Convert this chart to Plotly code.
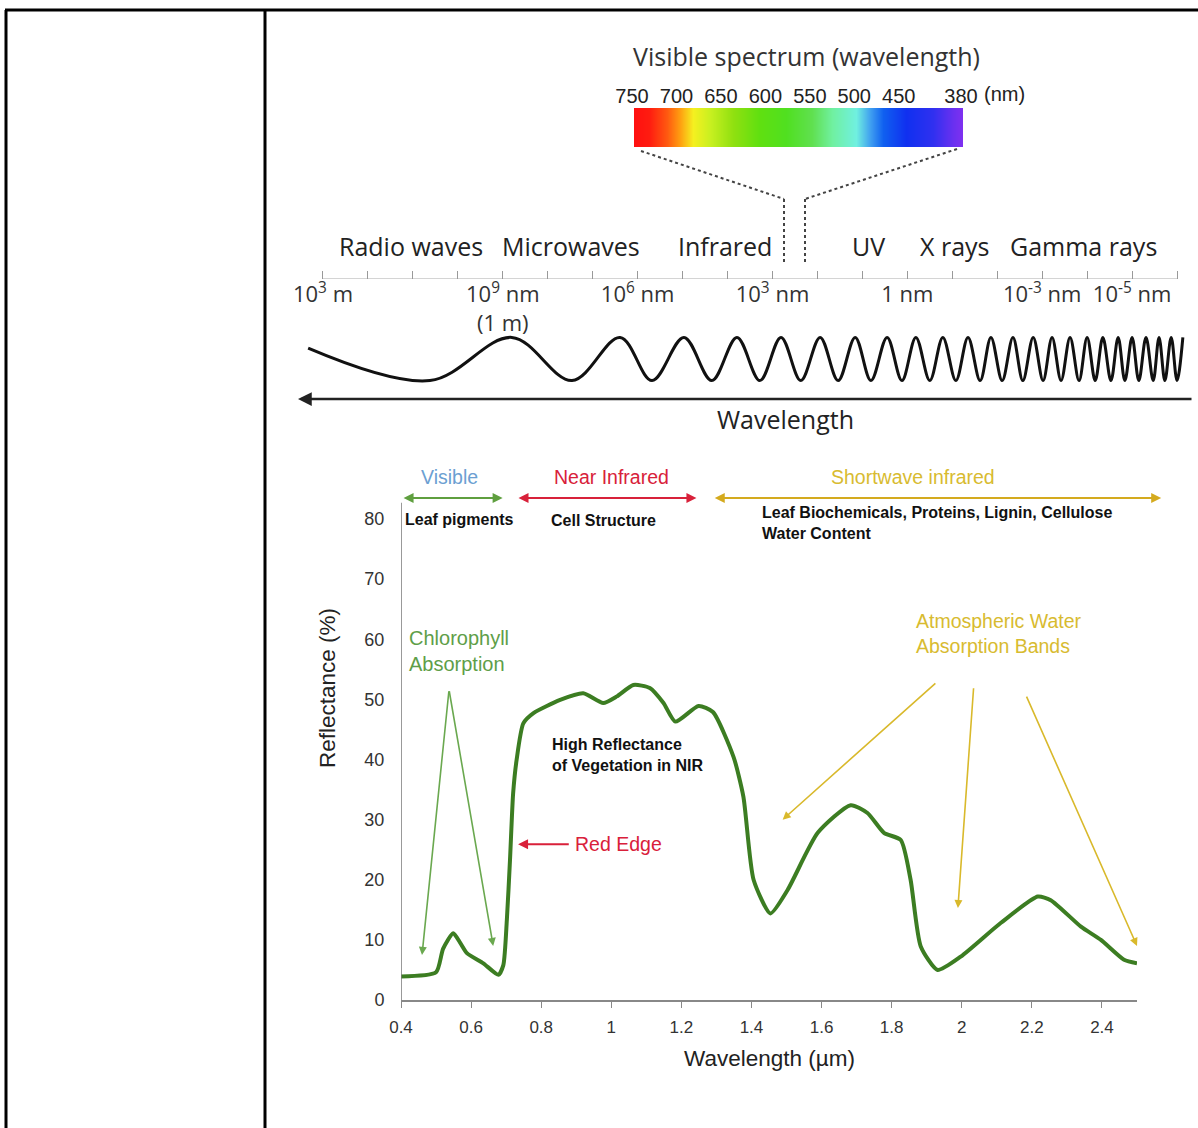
import plotly.graph_objects as go

W, H = 1198, 1128

# ---------------- data ----------------
# Vegetation reflectance curve
wavelength_um = [0.40, 0.50, 0.52, 0.549, 0.569, 0.588, 0.635, 0.678, 0.692, 0.702, 0.711, 0.72, 0.73,
                 0.749, 0.778, 0.854, 0.92, 0.977, 1.016, 1.063, 1.11, 1.149, 1.183, 1.249, 1.29, 1.349,
                 1.377, 1.406, 1.454, 1.503, 1.589, 1.683, 1.731, 1.778, 1.826, 1.854, 1.883, 1.931,
                 1.997, 2.111, 2.217, 2.254, 2.34, 2.397, 2.463, 2.50]
reflectance_pct = [3.9, 4.6, 8.5, 11.1, 9.5, 7.8, 6.1, 4.2, 5.8, 13.3, 23.3, 34.4, 40.0,
                   46.0, 47.7, 49.9, 51.0, 49.4, 50.5, 52.4, 51.9, 49.4, 46.3, 48.9, 47.9, 40.4,
                   33.8, 20.0, 14.4, 18.3, 27.8, 32.4, 31.1, 27.8, 26.6, 20.0, 8.9, 5.0,
                   7.2, 12.8, 17.2, 16.6, 12.2, 10.0, 6.7, 6.1]
x_ticks = [0.4, 0.6, 0.8, 1.0, 1.2, 1.4, 1.6, 1.8, 2.0, 2.2, 2.4]
x_ticktext = ["0.4", "0.6", "0.8", "1", "1.2", "1.4", "1.6", "1.8", "2", "2.2", "2.4"]
y_ticks = [0, 10, 20, 30, 40, 50, 60, 70, 80]

# Visible spectrum bar (wavelength in nm -> colour)
spectrum_nm = [750, 733, 713, 699, 684, 665, 639, 609, 579, 550, 527, 500, 485, 470, 444, 414, 391, 380]
spectrum_colors = ["#ff1010", "#ff1c10", "#ff5a10", "#ff9a10", "#f5f020", "#c8f020", "#90e010", "#60e010",
                   "#50e020", "#60e050", "#70f0a0", "#70f0e0", "#40a0f0", "#1060f0", "#1030f0", "#3030f0",
                   "#6a30f0", "#8030f0"]
spectrum_ticks = [750, 700, 650, 600, 550, 500, 450, 380]

# Electromagnetic spectrum scale (one tick per decade)
em_tick_index = list(range(20))
em_tick_text = ["10<sup>3</sup> m", "", "", "", "10<sup>9</sup> nm<br>(1 m)", "", "", "10<sup>6</sup> nm", "", "",
                "10<sup>3</sup> nm", "", "", "1 nm", "", "", "10<sup>-3</sup> nm", "", "10<sup>-5</sup> nm", ""]
em_bands = ["Radio waves", "Microwaves", "Infrared", "UV", "X rays", "Gamma rays"]
em_band_pos = [1.96, 5.52, 8.94, 12.13, 14.06, 16.91]

# Schematic wave: positions of successive crests/troughs on the scale
wave_idx = [-0.33, 2.38, 4.20, 5.54, 6.61, 7.32, 8.03, 8.65, 9.21, 9.72, 10.19, 10.63, 11.06, 11.46,
            11.84, 12.19, 12.55, 12.88, 13.19, 13.50, 13.79, 14.08, 14.35, 14.62, 14.86, 15.11, 15.35,
            15.57, 15.80, 16.02, 16.22, 16.42, 16.62, 16.82, 17.00, 17.18, 17.35, 17.53, 17.69, 17.84,
            18.00, 18.15, 18.31, 18.47, 18.60, 18.73, 18.87, 19.00, 19.13]
wave_amp = [0.5, -1, 1, -1, 1, -1, 1, -1, 1, -1, 1, -1, 1, -1, 1, -1, 1, -1, 1, -1, 1, -1, 1, -1, 1,
            -1, 1, -1, 1, -1, 1, -1, 1, -1, 1, -1, 1, -1, 1, -1, 1, -1, 1, -1, 1, -1, 1, -1, 1]

# Band annotations on the reflectance chart
band_names = ["Visible", "Near Infrared", "Shortwave infrared"]
band_start = [0.403, 0.731, 1.291]
band_end = [0.690, 1.243, 2.569]
band_label_x = [0.537, 1.0, 1.86]
band_colors = ["#5f9f3f", "#d8213a", "#d4aa1e"]
band_text_colors = ["#6c9fd2", "#d8213a", "#d8bb30"]

# ---------------- helpers ----------------
def PX(x):
    return x / W

def PY(y):
    return 1 - y / H

NARROW = "Liberation Sans Narrow, Arial Narrow, Liberation Sans, Arial, sans-serif"
HUM = "Open Sans, Lato, sans-serif"

fig = go.Figure()

# reflectance curve
fig.add_trace(go.Scatter(x=wavelength_um, y=reflectance_pct, mode="lines",
                         line=dict(color="#3c7d22", width=4, shape="spline", smoothing=0.6),
                         hoverinfo="skip", xaxis="x", yaxis="y"))

# spectrum bar
pos = [(750 - nm) / 370 for nm in spectrum_nm]
cscale = sorted([[1 - p, c] for p, c in zip(pos, spectrum_colors)], key=lambda t: t[0])
fig.add_trace(go.Heatmap(x=spectrum_nm, y=[0, 1], z=[spectrum_nm, spectrum_nm], zmin=380, zmax=750,
                         colorscale=cscale, zsmooth="best", showscale=False, hoverinfo="skip",
                         xaxis="x2", yaxis="y2"))

# EM scale baseline (first to last decade)
fig.add_trace(go.Scatter(x=[em_tick_index[0], em_tick_index[-1]], y=[0, 0], mode="lines",
                         line=dict(color="#aaaaaa", width=1.2), hoverinfo="skip", cliponaxis=False,
                         xaxis="x3", yaxis="y3"))

# wave
fig.add_trace(go.Scatter(x=wave_idx, y=wave_amp, mode="lines",
                         line=dict(color="#111111", width=3, shape="spline", smoothing=1.0),
                         hoverinfo="skip", xaxis="x3", yaxis="y4"))

shapes = []
# table borders
shapes.append(dict(type="line", xref="paper", yref="paper", x0=PX(5), x1=1, y0=PY(10), y1=PY(10),
                   line=dict(color="#000", width=3)))
shapes.append(dict(type="line", xref="paper", yref="paper", x0=PX(6), x1=PX(6), y0=PY(10), y1=0,
                   line=dict(color="#000", width=3)))
shapes.append(dict(type="line", xref="paper", yref="paper", x0=PX(265), x1=PX(265), y0=PY(10), y1=0,
                   line=dict(color="#000", width=3)))
# y-axis line of reflectance chart
shapes.append(dict(type="line", xref="x", yref="y", x0=0.4, x1=0.4, y0=0, y1=82.7,
                   line=dict(color="#777", width=1.5)))
# dotted lines from spectrum bar
for pts in ([(641, 151), (784, 199), (784, 264)], [(957, 149), (805, 199), (805, 264)]):
    for (xa, ya), (xb, yb) in zip(pts[:-1], pts[1:]):
        shapes.append(dict(type="line", xref="paper", yref="paper", x0=PX(xa), x1=PX(xb),
                           y0=PY(ya), y1=PY(yb), line=dict(color="#444", width=2, dash="dot")))

C = dict(xanchor="center", yanchor="middle")
ann = []
# ---- top section text ----
ann.append(dict(xref="paper", yref="paper", x=PX(806), y=PY(56), text="Visible spectrum (wavelength)",
                showarrow=False, font=dict(family=HUM, size=25, color="#333"), **C))
ann.append(dict(xref="paper", yref="paper", x=PX(1004), y=PY(94), text="(nm)",
                showarrow=False, font=dict(family=NARROW, size=20, color="#222"), **C))
for name, p in zip(em_bands, em_band_pos):
    ann.append(dict(xref="x3", yref="paper", x=p, y=PY(246), text=name, showarrow=False,
                    font=dict(family=HUM, size=25, color="#222"), **C))
# wavelength arrow
ann.append(dict(xref="paper", yref="paper", x=PX(298), y=PY(399), ax=1193 - 298, ay=0, text="",
                showarrow=True, arrowhead=2, arrowsize=1.1, arrowwidth=2.5, arrowcolor="#222"))
ann.append(dict(xref="paper", yref="paper", x=PX(785), y=PY(419), text="Wavelength", showarrow=False,
                font=dict(family=HUM, size=25, color="#222"), **C))

# ---- reflectance chart text ----
for name, s, e, lx, c, tc in zip(band_names, band_start, band_end, band_label_x, band_colors, band_text_colors):
    ann.append(dict(xref="x", yref="y", x=e, y=83.5, axref="x", ayref="y", ax=s, ay=83.5, text="",
                    showarrow=True, arrowhead=2, startarrowhead=2, arrowside="end+start",
                    arrowsize=1, arrowwidth=2, arrowcolor=c))
    ann.append(dict(xref="x", yref="y", x=lx, y=87.0, text=name, showarrow=False,
                    font=dict(family=NARROW, size=19.5, color=tc), **C))

BOLD = dict(family=NARROW, size=16, color="#111", weight="bold")
ann.append(dict(xref="x", yref="y", x=0.406, y=80.0, text="Leaf pigments", showarrow=False, xanchor="left",
                yanchor="middle", font=BOLD))
ann.append(dict(xref="x", yref="y", x=0.977, y=79.7, text="Cell Structure", showarrow=False,
                font=BOLD, **C))
ann.append(dict(xref="x", yref="y", x=1.423, y=79.3,
                text="Leaf Biochemicals, Proteins, Lignin, Cellulose<br>Water Content",
                showarrow=False, xanchor="left", yanchor="middle", align="left", font=BOLD))
ann.append(dict(xref="x", yref="y", x=0.417, y=58.0, text="Chlorophyll<br>Absorption", showarrow=False,
                xanchor="left", yanchor="middle", align="left",
                font=dict(family=NARROW, size=20, color="#5e9e48")))
for hx, hy in ((0.46, 7.5), (0.663, 9.0)):
    ann.append(dict(xref="x", yref="y", x=hx, y=hy, axref="x", ayref="y", ax=0.537, ay=51.6, text="",
                    showarrow=True, arrowhead=2, arrowsize=1, arrowwidth=1.6, arrowcolor="#6aa84f"))
ann.append(dict(xref="x", yref="y", x=0.826, y=40.8, text="High Reflectance<br>of Vegetation in NIR",
                showarrow=False, xanchor="left", yanchor="middle", align="left", font=BOLD))
ann.append(dict(xref="x", yref="y", x=0.734, y=25.9, axref="x", ayref="y", ax=0.883, ay=25.9, text="",
                showarrow=True, arrowhead=2, arrowsize=1, arrowwidth=2, arrowcolor="#d9203a"))
ann.append(dict(xref="x", yref="y", x=0.891, y=25.9, text="Red Edge", showarrow=False, xanchor="left",
                yanchor="middle", font=dict(family=NARROW, size=19.5, color="#d9203a")))
ann.append(dict(xref="x", yref="y", x=1.863, y=61.0, text="Atmospheric Water<br>Absorption Bands",
                showarrow=False, xanchor="left", yanchor="middle", align="left",
                font=dict(family=NARROW, size=19.5, color="#d8bb30")))
for (tx, ty), (hx, hy) in (((1.929, 52.9), (1.489, 30.0)), ((2.034, 52.1), (1.989, 15.3)),
                           ((2.183, 50.7), (2.50, 9.0))):
    ann.append(dict(xref="x", yref="y", x=hx, y=hy, axref="x", ayref="y", ax=tx, ay=ty, text="",
                    showarrow=True, arrowhead=2, arrowsize=1, arrowwidth=1.6, arrowcolor="#d9b92b"))
# axis titles
ann.append(dict(xref="paper", yref="paper", x=PX(769), y=PY(1058), text="Wavelength (µm)", showarrow=False,
                font=dict(family=NARROW, size=22.5, color="#222"), **C))
ann.append(dict(xref="paper", yref="paper", x=PX(327), y=PY(688), text="Reflectance (%)", showarrow=False,
                textangle=-90, font=dict(family=NARROW, size=22.5, color="#222"), **C))

fig.update_layout(
    width=W, height=H, margin=dict(l=0, r=0, t=0, b=0, pad=0), autosize=False,
    paper_bgcolor="white", plot_bgcolor="rgba(0,0,0,0)", showlegend=False,
    xaxis=dict(domain=[PX(401), PX(1137)], range=[0.4, 2.5], anchor="y", showgrid=False, zeroline=False,
               showline=True, linecolor="#888", linewidth=1.5, ticks="outside", ticklen=6, tickcolor="#888",
               tickvals=x_ticks, ticktext=x_ticktext, automargin=False, ticklabelstandoff=5,
               tickfont=dict(family=NARROW, size=17, color="#333")),
    yaxis=dict(domain=[PY(1000), PY(398.75)], range=[0, 100], anchor="x", showgrid=False, zeroline=False,
               showline=False, ticks="outside", ticklen=12, tickcolor="rgba(0,0,0,0)", tickvals=y_ticks,
               automargin=False, tickfont=dict(family=NARROW, size=18, color="#333")),
    xaxis2=dict(domain=[PX(634), PX(963)], range=[750, 380], anchor="y2", side="top", showgrid=False,
                zeroline=False, showline=False, ticks="", tickvals=spectrum_ticks,
                ticktext=[str(v) for v in spectrum_ticks], ticklabelshift=2, automargin=False,
                tickfont=dict(family=NARROW, size=20, color="#222")),
    yaxis2=dict(domain=[PY(147), PY(108)], range=[-0.5, 1.5], anchor="x2", visible=False, automargin=False),
    xaxis3=dict(domain=[PX(305), PX(1195)], range=[-0.4, 19.4], anchor="y3", showgrid=False, zeroline=False,
                showline=False, ticks="inside", ticklen=8, tickcolor="#999", tickwidth=1.2,
                tickvals=em_tick_index, ticktext=em_tick_text, automargin=False,
                tickfont=dict(family=HUM, size=22, color="#333")),
    yaxis3=dict(domain=[PY(279), PY(200)], range=[0, 1], anchor="x3", visible=False, automargin=False),
    yaxis4=dict(domain=[PY(400), PY(318)], range=[-1.9, 1.9], anchor="x3", visible=False, automargin=False),
    shapes=shapes, annotations=ann,
)

fig.write_html("out.html")
